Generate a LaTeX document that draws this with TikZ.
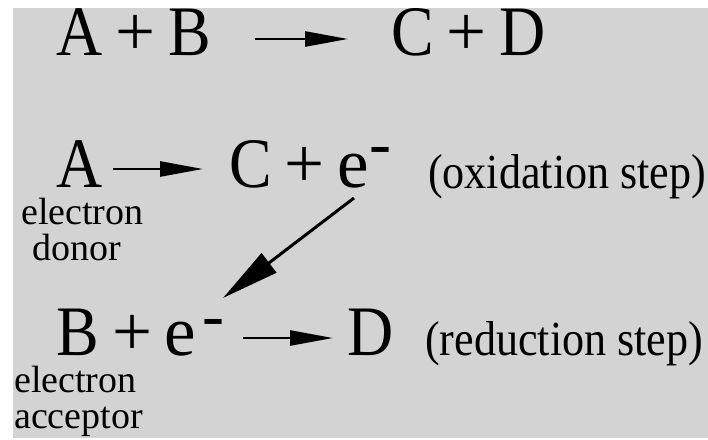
\documentclass[tikz,border=0pt]{standalone}
\usepackage{fontspec}
\setmainfont{Liberation Serif}
\newfontfamily\bigf{Liberation Serif}
\usetikzlibrary{arrows.meta}
\definecolor{bg}{HTML}{D3D3D3}
\newcommand{\nrw}[1]{\scalebox{0.9}[1]{#1}}
\begin{document}
\begin{tikzpicture}[x=1pt,y=-1pt,
  big/.style={inner sep=0pt, anchor=base, font=\bigf\fontsize{71}{71}\selectfont},
  supm/.style={inner sep=0pt, anchor=base, font=\bigf\fontsize{66}{66}\selectfont},
  mid/.style={inner sep=0pt, anchor=base west, font=\bigf\fontsize{49}{49}\selectfont},
  small/.style={inner sep=0pt, anchor=base west, font=\bigf\fontsize{38}{38}\selectfont},
  rarrow/.style={line width=2.6pt, -{Triangle[length=43pt,width=15pt]}},
  darrow/.style={line width=3pt, -{Triangle[length=58pt,width=24pt]}}]
\useasboundingbox (0,0) rectangle (708,439);
\fill[white] (0,0) rectangle (708,439);
\fill[bg] (13,8) rectangle (708,438);
% row 1
\node[big] (r1A) at (80,55) {\nrw{A}};
\node[big] (r1p1) at (136,55) {+};
\node[big] (r1B) at (190,55) {\nrw{B}};
\node[big] (r1C) at (412.5,55) {\nrw{C}};
\node[big] (r1p2) at (466.5,55) {+};
\node[big] (r1D) at (522.5,55) {\nrw{D}};
\coordinate (a1s) at (255,39);
\coordinate (a1e) at (348,39);
\draw[rarrow] (a1s) -- (a1e);
% row 2
\node[big] (r2A) at (80,187) {\nrw{A}};
\node[big] (r2C) at (251,187) {\nrw{C}};
\node[big] (r2p) at (304.5,187) {+};
\node[big] (r2e) at (353,187) {e};
\node[supm] (r2m) at (380,165.5) {-};
\node[mid] (ox) at (428,188) {\nrw{(oxidation step)}};
\node[small] (don1) at (21,224) {electron};
\node[small] (don2) at (32,260) {donor};
\coordinate (a2s) at (113,169);
\coordinate (a2e) at (203,169);
\draw[rarrow] (a2s) -- (a2e);
% diagonal transfer arrow
\coordinate (ds) at (354,198);
\coordinate (de) at (223,298);
\draw[darrow] (ds) -- (de);
% row 3
\node[big] (r3B) at (77.5,355) {\nrw{B}};
\node[big] (r3p) at (132.5,355) {+};
\node[big] (r3e) at (180,355) {e};
\node[supm] (r3m) at (213.5,337) {-};
\node[big] (r3D) at (370.5,355) {\nrw{D}};
\node[mid] (red) at (425,355) {\nrw{(reduction step)}};
\node[small] (acc1) at (14,392) {electron};
\node[small] (acc2) at (14,428) {acceptor};
\coordinate (a3s) at (243,338);
\coordinate (a3e) at (333,338);
\draw[rarrow] (a3s) -- (a3e);
\end{tikzpicture}
\end{document}
